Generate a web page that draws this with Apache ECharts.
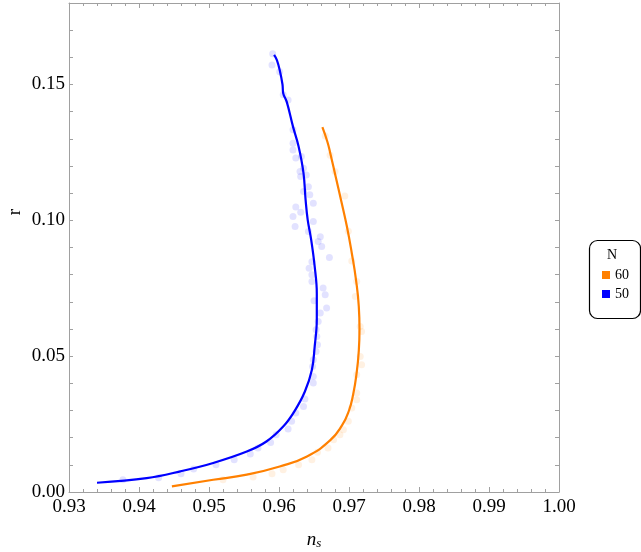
<!doctype html>
<html lang="en">
<head>
    <meta charset="utf-8">
    <title>r vs ns</title>
    <script src="https://cdn.jsdelivr.net/npm/echarts@6/dist/echarts.min.js"></script>
    <style>
        html, body { margin: 0; padding: 0; background: #fff; }
        #main { width: 641px; height: 552px; }
    </style>
</head>
<body>
<div id="main"></div>
<script>
    // N = 50 curve, [ns, r]
    const curve50 = [
        [0.9340, 0.0034], [0.9411, 0.0051], [0.9459, 0.0076], [0.9506, 0.0107], [0.9554, 0.0149],
        [0.9582, 0.0186], [0.9606, 0.0241], [0.9622, 0.0297], [0.9637, 0.0370], [0.9647, 0.0450],
        [0.9651, 0.0536], [0.9654, 0.0634], [0.9654, 0.0732], [0.9651, 0.0830], [0.9646, 0.0928],
        [0.9641, 0.1002], [0.9638, 0.1075], [0.9635, 0.1174], [0.9628, 0.1272], [0.9620, 0.1345],
        [0.9611, 0.1437], [0.9606, 0.1468], [0.9605, 0.1500], [0.9601, 0.1553], [0.9597, 0.1590],
        [0.9593, 0.1609]
    ];
    // N = 60 curve
    const curve60 = [
        [0.9447, 0.0021], [0.9506, 0.0045], [0.9554, 0.0064], [0.9601, 0.0094], [0.9640, 0.0131],
        [0.9673, 0.0190], [0.9690, 0.0245], [0.9700, 0.0300], [0.9706, 0.0360], [0.9711, 0.0440],
        [0.9714, 0.0520], [0.9715, 0.0600], [0.9714, 0.0683], [0.9710, 0.0781], [0.9704, 0.0879],
        [0.9697, 0.0977], [0.9689, 0.1070], [0.9681, 0.1160], [0.9673, 0.1250], [0.9669, 0.1290],
        [0.9662, 0.1343]
    ];
    // sampled points behind the curves
    const points50 = [
        [0.9377, 0.0045], [0.9428, 0.0052], [0.9460, 0.0067], [0.9478, 0.0085], [0.9510, 0.0100],
        [0.9536, 0.0119], [0.9559, 0.0140], [0.9570, 0.0162], [0.9588, 0.0182], [0.9596, 0.0211],
        [0.9613, 0.0232], [0.9618, 0.0260], [0.9624, 0.0291], [0.9635, 0.0315], [0.9637, 0.0342],
        [0.9649, 0.0401], [0.9649, 0.0425], [0.9648, 0.0462], [0.9649, 0.0487], [0.9653, 0.0517],
        [0.9655, 0.0542], [0.9654, 0.0572], [0.9653, 0.0597], [0.9656, 0.0628], [0.9659, 0.0659],
        [0.9668, 0.0677], [0.9650, 0.0704], [0.9666, 0.0726], [0.9663, 0.0751], [0.9647, 0.0775],
        [0.9647, 0.0800], [0.9643, 0.0824], [0.9647, 0.0848], [0.9672, 0.0863], [0.9661, 0.0904],
        [0.9656, 0.0922], [0.9659, 0.0940], [0.9642, 0.0959], [0.9623, 0.0977], [0.9649, 0.0996],
        [0.9620, 0.1014], [0.9631, 0.1030], [0.9624, 0.1049], [0.9649, 0.1063], [0.9644, 0.1094],
        [0.9635, 0.1106], [0.9642, 0.1124], [0.9631, 0.1161], [0.9639, 0.1167], [0.9630, 0.1180],
        [0.9635, 0.1192], [0.9624, 0.1229], [0.9632, 0.1235], [0.9620, 0.1259], [0.9620, 0.1284],
        [0.9620, 0.1333], [0.9613, 0.1443], [0.9606, 0.1462], [0.9601, 0.1547], [0.9590, 0.1572],
        [0.9591, 0.1613]
    ];
    const points60 = [
        [0.9520, 0.0045], [0.9563, 0.0055], [0.9590, 0.0067], [0.9606, 0.0082], [0.9628, 0.0100],
        [0.9647, 0.0119], [0.9655, 0.0146], [0.9670, 0.0162], [0.9678, 0.0192], [0.9687, 0.0211],
        [0.9692, 0.0229], [0.9699, 0.0260], [0.9704, 0.0309], [0.9711, 0.0340], [0.9711, 0.0364],
        [0.9711, 0.0432], [0.9718, 0.0468], [0.9716, 0.0499], [0.9718, 0.0591], [0.9716, 0.0609],
        [0.9709, 0.0720], [0.9711, 0.0775], [0.9704, 0.0850], [0.9699, 0.0960], [0.9694, 0.1090],
        [0.9680, 0.1180], [0.9673, 0.1240], [0.9666, 0.1310]
    ];
    const xTicks = [0.93, 1.00, 0.01];
    const yTicks = [0, 0.18, 0.01];
    const seriesNames = ['60', '50'];

    const serif = 'Liberation Serif';
    const frame = '#a0a0a0';

    const makeX = (pos, labels) => ({
        type: 'value', position: pos, min: xTicks[0], max: xTicks[1], interval: xTicks[2],
        axisLine: {onZero: false, lineStyle: {color: frame, width: 1}},
        axisTick: {inside: true, length: 5, lineStyle: {color: frame}},
        minorTick: {show: true, splitNumber: 5, length: 3, lineStyle: {color: frame}},
        splitLine: {show: false},
        axisLabel: {
            show: labels, margin: 6, color: '#000', fontFamily: serif, fontSize: 19,
            formatter: v => v.toFixed(2)
        }
    });
    const makeY = (pos, labels) => ({
        type: 'value', position: pos, min: yTicks[0], max: yTicks[1], interval: yTicks[2],
        axisLine: {onZero: false, lineStyle: {color: frame, width: 1}},
        axisTick: {inside: true, length: 4, lineStyle: {color: frame}},
        splitLine: {show: false},
        axisLabel: {
            show: labels, margin: 4, color: '#000', fontFamily: serif, fontSize: 19,
            showMaxLabel: false,
            formatter: v => (Math.round(v * 100) % 5 === 0 ? v.toFixed(2) : '')
        }
    });

    const option = {
        animation: false,
        backgroundColor: '#fff',
        grid: {left: 69, right: 82, top: 3, bottom: 60},
        xAxis: [makeX('bottom', true), makeX('top', false)],
        yAxis: [makeY('left', true), makeY('right', false)],
        legend: {
            data: seriesNames, orient: 'vertical', left: 597, top: 263,
            icon: 'rect', itemWidth: 8, itemHeight: 8, itemGap: 5,
            textStyle: {fontFamily: serif, fontSize: 14, color: '#000'}
        },
        graphic: [
            {type: 'rect', left: 587, top: 238, shape: {width: 51, height: 78, r: 8},
                style: {fill: 'none', stroke: '#000', lineWidth: 1.2}},
            {type: 'text', x: 612, y: 255, style: {text: 'N', fontFamily: serif, fontSize: 14,
                    fill: '#000', align: 'center', verticalAlign: 'middle'}},
            {type: 'text', x: 15, y: 212, rotation: Math.PI / 2, style: {text: 'r', fontFamily: serif,
                    fontSize: 19, fill: '#000', align: 'center', verticalAlign: 'middle'}},
            {type: 'text', x: 314, y: 540, style: {
                    text: '{n|n}{s|s}', align: 'center', verticalAlign: 'middle',
                    rich: {
                        n: {fontFamily: serif, fontStyle: 'italic', fontSize: 19, fill: '#000'},
                        s: {fontFamily: serif, fontStyle: 'italic', fontSize: 13, fill: '#000',
                            padding: [8, 0, 0, 0]}
                    }
                }}
        ],
        series: [
            {type: 'scatter', name: 'pts60', data: points60, symbolSize: 7, z: 1,
                itemStyle: {color: 'rgba(255,128,0,0.14)'}},
            {type: 'scatter', name: 'pts50', data: points50, symbolSize: 7, z: 1,
                itemStyle: {color: 'rgba(0,0,255,0.14)'}},
            {type: 'line', name: '60', data: curve60, showSymbol: false, smooth: 0.5, z: 3,
                itemStyle: {color: '#ff8000'}, lineStyle: {color: '#ff8000', width: 2.2}},
            {type: 'line', name: '50', data: curve50, showSymbol: false, smooth: 0.4, z: 3,
                itemStyle: {color: '#0000ff'}, lineStyle: {color: '#0000ff', width: 2.2}}
        ]
    };

    const myChart = echarts.init(document.getElementById('main'));
    myChart.setOption(option);
</script>
</body>
</html>
